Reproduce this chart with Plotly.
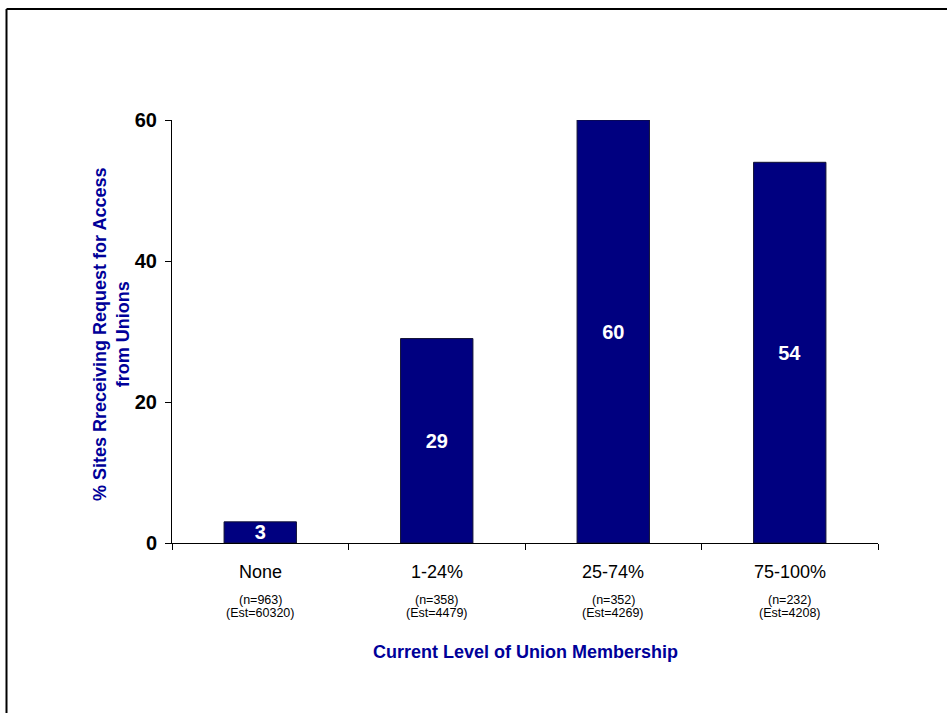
import plotly.graph_objects as go

# Survey data: share of sites receiving a request for access from unions
categories = ["None", "1-24%", "25-74%", "75-100%"]
pct_requests = [3, 29, 60, 54]
sample_n = [963, 358, 352, 232]
estimates = [60320, 4479, 4269, 4208]
y_ticks = [0, 20, 40, 60]

FONT = "Arial, 'Liberation Sans', sans-serif"
BLUE = "#000099"
NAVY = "#000080"

W, H = 947, 713
L, R, T, B = 172, 69, 120, 170
pw, ph = W - L - R, H - T - B


def px_x(p):
    return (p - L) / pw


def px_y(p):
    return (H - B - p) / ph


fig = go.Figure(
    go.Bar(
        x=categories,
        y=pct_requests,
        width=0.41,
        marker=dict(color=NAVY, line=dict(color="#111133", width=1)),
        text=[str(v) for v in pct_requests],
        textposition="inside",
        insidetextanchor="middle",
        textangle=0,
        constraintext="none",
        textfont=dict(family=FONT, size=20, color="white", weight="bold"),
        cliponaxis=False,
        hoverinfo="skip",
    )
)

annotations = []
for cat, n, est in zip(categories, sample_n, estimates):
    annotations.append(dict(x=cat, xref="x", y=px_y(572), yref="paper",
                            text=cat, showarrow=False, xanchor="center", yanchor="middle",
                            font=dict(family=FONT, size=18, color="black")))
    annotations.append(dict(x=cat, xref="x", y=px_y(600), yref="paper",
                            text=f"(n={n})", showarrow=False, xanchor="center", yanchor="middle",
                            font=dict(family=FONT, size=12.5, color="black")))
    annotations.append(dict(x=cat, xref="x", y=px_y(613), yref="paper",
                            text=f"(Est={est})", showarrow=False, xanchor="center", yanchor="middle",
                            font=dict(family=FONT, size=12.5, color="black")))

# Axis titles
annotations.append(dict(x=0.5, xref="paper", y=px_y(652), yref="paper",
                        text="Current Level of Union Membership", showarrow=False,
                        xanchor="center", yanchor="middle",
                        font=dict(family=FONT, size=18, color=BLUE, weight="bold")))
annotations.append(dict(x=px_x(111), xref="paper", y=px_y(335), yref="paper",
                        text="% Sites Rreceiving Request for Access<br>from Unions",
                        showarrow=False, textangle=-90, xanchor="center", yanchor="middle",
                        font=dict(family=FONT, size=18, color=BLUE, weight="bold")))

# Outer frame (top and left edges)
shapes = [
    dict(type="line", xref="paper", yref="paper", x0=px_x(6.5), x1=px_x(W + 5),
         y0=px_y(9), y1=px_y(9), line=dict(color="black", width=2)),
    dict(type="line", xref="paper", yref="paper", x0=px_x(6.5), x1=px_x(6.5),
         y0=px_y(9), y1=px_y(H + 5), line=dict(color="black", width=2)),
]

fig.update_layout(
    width=W, height=H,
    margin=dict(l=L, r=R, t=T, b=B),
    paper_bgcolor="white", plot_bgcolor="white",
    showlegend=False,
    bargap=0.59,
    annotations=annotations,
    shapes=shapes,
    font=dict(family=FONT),
    xaxis=dict(
        type="category",
        tickson="boundaries",
        ticks="outside", ticklen=6, tickwidth=1, tickcolor="black",
        showticklabels=False,
        showline=True, linecolor="black", linewidth=1,
        showgrid=False, zeroline=False,
        fixedrange=True,
    ),
    yaxis=dict(
        range=[0, 60],
        tickvals=y_ticks,
        ticks="outside", ticklen=6, tickwidth=1, tickcolor="black",
        tickfont=dict(family=FONT, size=20, color="black", weight="bold"),
        ticklabelstandoff=4,
        showline=True, linecolor="black", linewidth=1,
        showgrid=False, zeroline=False,
        fixedrange=True,
    ),
)

fig.write_html("out.html")
